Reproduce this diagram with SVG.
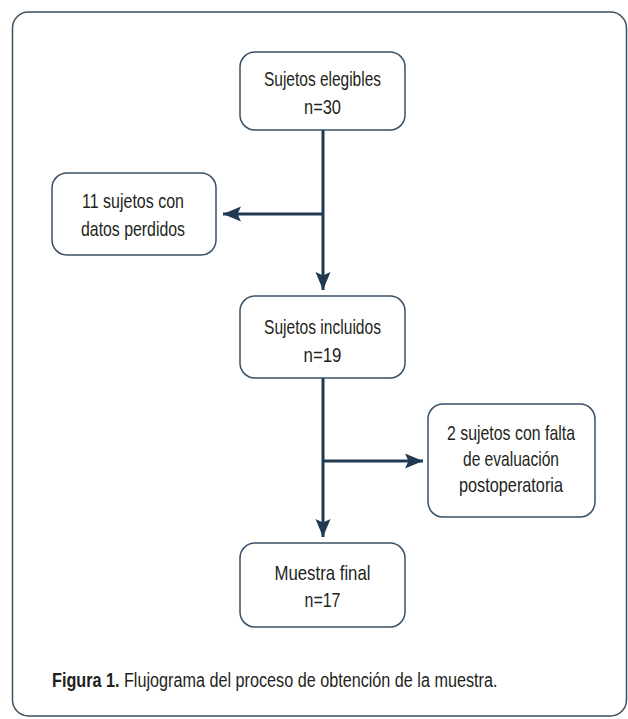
<svg xmlns="http://www.w3.org/2000/svg" width="628" height="719" viewBox="0 0 628 719">
<defs>
<style>
.frame{fill:#fff;stroke:#3a4f60;stroke-width:1.5}
.box{fill:#fff;stroke:#3a5066;stroke-width:1.5}
.lbl{font-family:"Liberation Sans",Arial,sans-serif;font-size:21px;fill:#231f20;text-anchor:middle}
.cap{font-family:"Liberation Sans",Arial,sans-serif;font-size:20px;fill:#231f20}
.conn{fill:none;stroke:#1f3a50;stroke-width:3}
</style>
<marker id="ah" markerUnits="userSpaceOnUse" markerWidth="19" markerHeight="16" refX="18" refY="7.5" orient="auto">
<path d="M0,0 L18,7.5 L0,15 L3.5,7.5 Z" fill="#1f3a50"/>
</marker>
</defs>
<rect class="frame" x="12.5" y="12" width="614" height="704" rx="16"/>
<g id="connectors">
<line class="conn" x1="323" y1="130" x2="323" y2="290" marker-end="url(#ah)"/>
<line class="conn" x1="323" y1="214" x2="223" y2="214" marker-end="url(#ah)"/>
<line class="conn" x1="323" y1="378" x2="323" y2="537" marker-end="url(#ah)"/>
<line class="conn" x1="323" y1="461" x2="423" y2="461" marker-end="url(#ah)"/>
</g>
<g id="n1">
<rect class="box" x="240" y="52" width="165" height="78" rx="15"/>
<text class="lbl" x="322.5" y="86" textLength="117" lengthAdjust="spacingAndGlyphs">Sujetos elegibles</text>
<text class="lbl" x="322.5" y="114" textLength="37" lengthAdjust="spacingAndGlyphs">n=30</text>
</g>
<g id="n2">
<rect class="box" x="52" y="173" width="164" height="82" rx="15"/>
<text class="lbl" x="133" y="208" textLength="102" lengthAdjust="spacingAndGlyphs">11 sujetos con</text>
<text class="lbl" x="133" y="236" textLength="104" lengthAdjust="spacingAndGlyphs">datos perdidos</text>
</g>
<g id="n3">
<rect class="box" x="240" y="296" width="165" height="82" rx="15"/>
<text class="lbl" x="322.5" y="334" textLength="117" lengthAdjust="spacingAndGlyphs">Sujetos incluidos</text>
<text class="lbl" x="322.5" y="362" textLength="38" lengthAdjust="spacingAndGlyphs">n=19</text>
</g>
<g id="n4">
<rect class="box" x="428" y="404" width="167" height="113" rx="15"/>
<text class="lbl" x="511" y="440" textLength="128" lengthAdjust="spacingAndGlyphs">2 sujetos con falta</text>
<text class="lbl" x="511" y="466" textLength="96" lengthAdjust="spacingAndGlyphs">de evaluación</text>
<text class="lbl" x="511" y="492" textLength="104" lengthAdjust="spacingAndGlyphs">postoperatoria</text>
</g>
<g id="n5">
<rect class="box" x="240" y="543" width="165" height="84" rx="15"/>
<text class="lbl" x="322.5" y="580" textLength="96" lengthAdjust="spacingAndGlyphs">Muestra final</text>
<text class="lbl" x="322.5" y="607" textLength="36" lengthAdjust="spacingAndGlyphs">n=17</text>
</g>
<g id="caption" transform="translate(52,687) scale(0.81,1)">
<text class="cap" x="0" y="0"><tspan font-weight="bold">Figura 1.</tspan> Flujograma del proceso de obtención de la muestra.</text>
</g>
</svg>
